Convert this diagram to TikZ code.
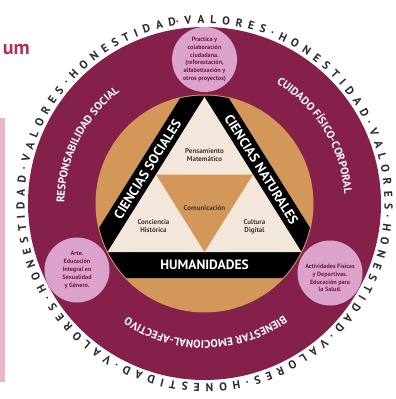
\documentclass[tikz,border=0pt]{standalone}
\usepackage{fontspec}
\setmainfont{PT Sans}
\usetikzlibrary{calc, decorations.text}

\definecolor{vino}{HTML}{85204A}
\definecolor{ocre}{HTML}{D3975A}
\definecolor{crema}{HTML}{F3E7DC}
\definecolor{rosa}{HTML}{DBA2CB}
\definecolor{rosatexto}{HTML}{6E1A40}
\definecolor{franja}{HTML}{E8B5CB}
\definecolor{titulo}{HTML}{B12E5E}
\definecolor{anillo}{HTML}{2B2B2B}
\definecolor{notatexto}{HTML}{4A3535}

\newcommand{\anillofont}{\fontsize{11.5}{11.5}\selectfont\bfseries}
\newcommand{\campofont}{\fontsize{11}{11}\selectfont\bfseries}

\begin{document}
\begin{tikzpicture}[x=1pt, y=1pt, every node/.style={inner sep=0pt},
    burbuja/.style={circle, fill=rosa, minimum size=65pt},
    rotulo/.style={align=center, text=rosatexto, font=\fontsize{6.2}{7.8}\selectfont\bfseries},
    eje/.style={text=white, font=\fontsize{13.5}{13.5}\selectfont\bfseries},
    nota/.style={align=center, text=notatexto, font=\fontsize{7}{8}\selectfont\bfseries}]
	\useasboundingbox[fill=white] (-204.5,-195.5) rectangle (191.5,203.5);
	\fill[franja] (-204.5,85.5) rectangle (-199.5,-178.5);
	\node[anchor=base east, text=titulo, font=\fontsize{20}{20}\selectfont\bfseries] (titulo) at (-174.5,148.5) {um};
	\fill[vino] (0,0) circle[radius=176.5pt];
	\fill[ocre] (0,0) circle[radius=109pt];
	\coordinate (a) at (0,106.5);
	\coordinate (b) at (-97,-48.5);
	\coordinate (c) at (97,-48.5);
	\begin{scope}
		\clip (0,0) circle[radius=108pt];
		\fill[black] (0,144.2) -- (-136.9,-74.5) -- (136.9,-74.5) -- cycle;
	\end{scope}
	\fill[crema] (a) -- (b) -- (c) -- cycle;
	\fill[ocre] ($(a)!0.5!(b)$) -- ($(b)!0.5!(c)$) -- ($(a)!0.5!(c)$) -- cycle;
	\node[burbuja, label={[rotulo]center:{Practica y\\colaboración\\ciudadana.\\(reforestación,\\alfabetización y\\otros proyectos)}}] (ciudadana) at (0,144) {};
	\node[burbuja, label={[rotulo]center:{Arte.\\Educación\\Integral en\\Sexualidad\\y Género.}}] (arte) at (-127.5,-66.5) {};
	\node[burbuja, label={[rotulo, yshift=-5pt]center:{Actividades Físicas\\y Deportivas.\\Educación para\\la Salud.}}] (salud) at (125.5,-69.5) {};
	\path[decorate, decoration={text along path, text align=fit to path, text color=anillo,
		text={|\anillofont|·VALORES·HONESTIDAD·VALORES·HONESTIDAD·VALORES·HONESTIDAD·VALORES·HONESTIDAD·VALORES·HONESTIDAD}}]
		(99:180pt) arc[start angle=99, end angle=-261, radius=180pt];
	\path[decorate, decoration={text along path, text align=center, text color=white,
		text={|\campofont|RESPONSABILIDAD SOCIAL}}]
		(198:140pt) arc[start angle=198, end angle=109, radius=140pt];
	\path[decorate, decoration={text along path, text align=center, text color=white,
		text={|\campofont|CUIDADO FÍSICO-CORPORAL}}]
		(76:140pt) arc[start angle=76, end angle=-13, radius=140pt];
	\path[decorate, decoration={text along path, text align=center, text color=white,
		text={|\campofont|BIENESTAR EMOCIONAL-AFECTIVO}}]
		(315:137pt) arc[start angle=315, end angle=226, radius=137pt];
	\node[eje, rotate=57.97] (sociales) at (-57,34.3) {CIENCIAS SOCIALES};
	\node[eje, rotate=-57.97] (naturales) at (57,34.3) {CIENCIAS NATURALES};
	\node[eje] (humanidades) at (0,-61.5) {HUMANIDADES};
	\node[nota] (pensamiento) at (0,48) {Pensamiento\\Matemático};
	\node[nota] (comunicacion) at (0,-5) {Comunicación};
	\node[nota] (conciencia) at (-51,-23) {Conciencia\\Histórica};
	\node[nota] (cultura) at (50,-23) {Cultura\\Digital};
\end{tikzpicture}
\end{document}
